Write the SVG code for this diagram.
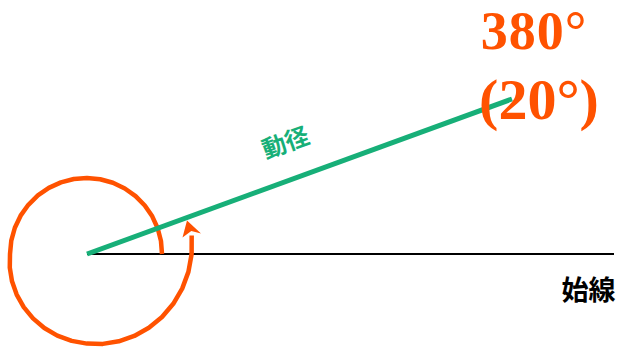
<svg xmlns="http://www.w3.org/2000/svg" width="621" height="349" viewBox="0 0 621 349">
<style>
.orange{fill:none;stroke:#FF5200;stroke-width:4.5;stroke-linejoin:round}
.deg{font-family:"Liberation Serif","DejaVu Serif",serif;font-weight:bold;fill:#FF5200;text-anchor:middle}
.cjk{font-family:"Noto Sans CJK JP","Noto Sans CJK SC",sans-serif;font-weight:bold}
</style>
<rect width="621" height="349" fill="#ffffff"/>
<g id="connectors">
  <line id="initial-line" x1="87" y1="254" x2="614" y2="254" stroke="#000" stroke-width="2"/>
  <path id="spiral" class="orange" d="M162,254 L160.97,240.96 157.69,228.27 152.24,216.33 144.79,205.5 135.57,196.12 124.83,188.47 112.92,182.79 100.17,179.27 87,178 73.79,179.05 60.93,182.37 48.83,187.89 37.86,195.44 28.36,204.79 20.6,215.67 14.85,227.74 11.28,240.65 10,254 9.79,267.61 12.01,281.29 16.68,294.6 23.73,307.1 33,318.34 44.3,327.96 57.31,335.57 71.69,340.86 87,343.6 102.84,343.88 118.79,341.34 134.31,335.93 148.89,327.75 162.03,316.96 173.27,303.81 182.18,288.64 188.4,271.87 191.63,254 191.68,235.5"/>
  <polygon id="arrowhead" points="187,220.5 201,233.5 191.3,231 182.5,237.5" fill="#FF5200"/>
  <line id="radius-vector" x1="87" y1="254" x2="512" y2="99" stroke="#17AF78" stroke-width="5"/>
</g>
<g id="label-radius">
  <text class="cjk" x="285" y="141" font-size="24" fill="#17AF78" text-anchor="middle" dominant-baseline="central" transform="rotate(-20 285 141)">動径</text>
</g>
<g id="label-initial">
  <text class="cjk" x="588.5" y="288" font-size="27" fill="#000" text-anchor="middle" dominant-baseline="central">始線</text>
</g>
<g id="label-angle">
  <text class="deg" x="534" y="49" font-size="54" letter-spacing="1">380°</text>
  <text class="deg" x="539" y="119" font-size="58">(20°)</text>
</g>
</svg>
